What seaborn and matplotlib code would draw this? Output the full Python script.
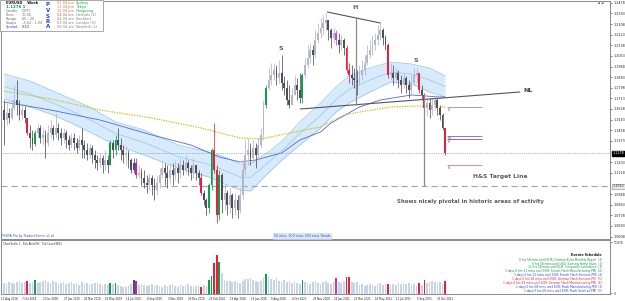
import matplotlib
matplotlib.use("Agg")
import matplotlib.pyplot as plt
import matplotlib.transforms as mtransforms
from matplotlib.patches import Rectangle
import seaborn as sns
import numpy as np

sns.set_style("white")
plt.rcParams['font.family'] = ['DejaVu Sans']

# EURUSD weekly candles, first bar = week of 13 Aug 2018
first_open = 1.162
closes = [1.154, 1.160, 1.156, 1.164, 1.170, 1.166, 1.158, 1.162, 1.156, 1.144,
          1.140, 1.135, 1.144, 1.148, 1.140, 1.142, 1.136, 1.144, 1.148, 1.142,
          1.148, 1.144, 1.140, 1.144, 1.138, 1.134, 1.140, 1.136, 1.132, 1.138,
          1.134, 1.130, 1.126, 1.132, 1.126, 1.122, 1.120, 1.124, 1.118, 1.122,
          1.118, 1.136, 1.130, 1.138, 1.134, 1.130, 1.126, 1.128, 1.122, 1.114,
          1.120, 1.110, 1.112, 1.108, 1.104, 1.102, 1.108, 1.102, 1.098, 1.104,
          1.110, 1.116, 1.112, 1.108, 1.114, 1.110, 1.116, 1.112, 1.118, 1.114,
          1.120, 1.116, 1.112, 1.118, 1.112, 1.108, 1.096, 1.090, 1.084, 1.102,
          1.130, 1.114, 1.078, 1.110, 1.090, 1.096, 1.086, 1.094, 1.084, 1.090,
          1.082, 1.094, 1.114, 1.126, 1.130, 1.124, 1.132, 1.126, 1.134, 1.142,
          1.166, 1.180, 1.186, 1.190, 1.194, 1.188, 1.192, 1.184, 1.180, 1.170,
          1.166, 1.174, 1.182, 1.178, 1.172, 1.190, 1.198, 1.204, 1.210, 1.206,
          1.218, 1.224, 1.228, 1.232, 1.234, 1.226, 1.220, 1.224, 1.218, 1.214,
          1.218, 1.212, 1.194, 1.190, 1.188, 1.186, 1.184, 1.190, 1.194, 1.200,
          1.206, 1.210, 1.214, 1.218, 1.222, 1.226, 1.220, 1.214, 1.190, 1.192,
          1.188, 1.192, 1.186, 1.182, 1.188, 1.182, 1.178, 1.184, 1.190, 1.192,
          1.178, 1.174, 1.164, 1.168, 1.162, 1.166, 1.170, 1.164, 1.158, 1.148,
          1.1276]
highs = [1.170, 1.168, 1.164, 1.170, 1.182, 1.186, 1.170, 1.166, 1.165, 1.156,
         1.150, 1.146, 1.146, 1.152, 1.150, 1.148, 1.146, 1.150, 1.154, 1.150,
         1.160, 1.152, 1.148, 1.148, 1.146, 1.142, 1.144, 1.144, 1.140, 1.142,
         1.148, 1.138, 1.136, 1.136, 1.134, 1.130, 1.126, 1.128, 1.126, 1.130,
         1.126, 1.138, 1.138, 1.142, 1.148, 1.140, 1.134, 1.133, 1.130, 1.124,
         1.124, 1.124, 1.118, 1.116, 1.114, 1.110, 1.112, 1.110, 1.108, 1.110,
         1.116, 1.122, 1.120, 1.118, 1.120, 1.120, 1.122, 1.120, 1.124, 1.122,
         1.126, 1.122, 1.118, 1.124, 1.118, 1.114, 1.112, 1.098, 1.092, 1.104,
         1.132, 1.152, 1.118, 1.114, 1.112, 1.102, 1.098, 1.100, 1.096, 1.096,
         1.094, 1.100, 1.122, 1.138, 1.140, 1.136, 1.138, 1.136, 1.140, 1.148,
         1.170, 1.182, 1.196, 1.200, 1.200, 1.198, 1.202, 1.206, 1.189, 1.186,
         1.182, 1.180, 1.190, 1.188, 1.192, 1.192, 1.204, 1.214, 1.216, 1.214,
         1.226, 1.232, 1.236, 1.238, 1.240, 1.234, 1.228, 1.228, 1.226, 1.224,
         1.222, 1.220, 1.214, 1.200, 1.198, 1.196, 1.194, 1.198, 1.202, 1.206,
         1.214, 1.218, 1.222, 1.224, 1.230, 1.232, 1.228, 1.222, 1.216, 1.200,
         1.198, 1.196, 1.194, 1.190, 1.192, 1.189, 1.186, 1.190, 1.196, 1.196,
         1.192, 1.182, 1.176, 1.172, 1.172, 1.172, 1.174, 1.172, 1.166, 1.160,
         1.148]
lows = [1.134, 1.150, 1.152, 1.154, 1.162, 1.158, 1.154, 1.154, 1.152, 1.142,
        1.132, 1.130, 1.133, 1.140, 1.136, 1.134, 1.124, 1.133, 1.140, 1.138,
        1.140, 1.138, 1.134, 1.136, 1.132, 1.130, 1.132, 1.130, 1.128, 1.130,
        1.124, 1.124, 1.122, 1.124, 1.120, 1.116, 1.114, 1.116, 1.112, 1.114,
        1.112, 1.118, 1.124, 1.126, 1.130, 1.122, 1.120, 1.118, 1.116, 1.112,
        1.112, 1.108, 1.108, 1.102, 1.100, 1.096, 1.098, 1.094, 1.090, 1.094,
        1.100, 1.108, 1.102, 1.100, 1.104, 1.102, 1.106, 1.104, 1.108, 1.110,
        1.112, 1.110, 1.106, 1.108, 1.106, 1.102, 1.094, 1.086, 1.078, 1.080,
        1.098, 1.112, 1.072, 1.074, 1.080, 1.082, 1.078, 1.080, 1.076, 1.078,
        1.076, 1.080, 1.090, 1.110, 1.118, 1.118, 1.120, 1.116, 1.122, 1.132,
        1.138, 1.164, 1.178, 1.182, 1.186, 1.182, 1.184, 1.178, 1.174, 1.166,
        1.164, 1.166, 1.174, 1.170, 1.168, 1.168, 1.188, 1.196, 1.200, 1.198,
        1.204, 1.216, 1.220, 1.222, 1.226, 1.218, 1.212, 1.216, 1.214, 1.208,
        1.210, 1.206, 1.192, 1.184, 1.182, 1.180, 1.174, 1.182, 1.186, 1.190,
        1.198, 1.204, 1.206, 1.210, 1.214, 1.218, 1.214, 1.210, 1.188, 1.186,
        1.182, 1.184, 1.180, 1.176, 1.180, 1.176, 1.172, 1.174, 1.182, 1.184,
        1.176, 1.170, 1.160, 1.158, 1.156, 1.158, 1.162, 1.158, 1.154, 1.146,
        1.126]
volumes = [11, 10, 12, 11, 10, 12, 13, 11, 12, 13,
           11, 12, 14, 11, 12, 13, 14, 12, 11, 13,
           12, 10, 11, 12, 10, 11, 12, 10, 11, 9,
           12, 10, 11, 9, 10, 11, 12, 10, 9, 10,
           9, 11, 10, 11, 9, 8, 7, 7, 8, 10,
           14, 13, 9, 10, 9, 8, 9, 10, 8, 9,
           8, 7, 9, 8, 9, 10, 8, 7, 9, 8,
           9, 10, 8, 7, 8, 9, 7, 9, 8, 14,
           18, 31, 39, 32, 21, 14, 13, 13, 12, 13,
           12, 11, 13, 15, 15, 16, 14, 13, 12, 13,
           16, 20, 17, 15, 14, 16, 13, 12, 14, 12,
           13, 11, 12, 11, 10, 14, 12, 11, 10, 12,
           13, 11, 10, 12, 13, 11, 10, 12, 16, 12,
           11, 13, 17, 17, 12, 11, 12, 9, 10, 8,
           9, 10, 9, 8, 10, 11, 9, 10, 10, 9,
           10, 9, 11, 10, 11, 10, 11, 9, 10, 8,
           11, 9, 14, 11, 12, 13, 12, 11, 12, 10,
           13]  # tick volume, thousands

# PVSRA special candles
red_bars = [9, 51, 76, 81, 82, 132, 133, 148, 160, 162, 170]
green_bars = [12, 41, 43, 79, 80, 83, 101, 115]
blue_bars = [50]
magenta_bars = [128]

# EMA ribbons (read at these bar numbers)
band_idx = [0, 10, 18, 26, 33, 43, 54, 67, 79, 85, 91, 95, 103, 108, 114, 122,
            128, 133, 141, 149, 157, 164, 170]
band_top = [1.1908, 1.1852, 1.1780, 1.1708, 1.1644, 1.1524, 1.1460, 1.1340, 1.1284,
            1.1244, 1.1188, 1.1188, 1.1300, 1.1388, 1.1524, 1.1676, 1.1804, 1.1892,
            1.1956, 1.2004, 1.1988, 1.1956, 1.1892]
band_mid = [1.1808, 1.1748, 1.1684, 1.1612, 1.1544, 1.1432, 1.1360, 1.1248, 1.1184,
            1.1136, 1.1084, 1.1080, 1.1220, 1.1312, 1.1432, 1.1576, 1.1704, 1.1784,
            1.1860, 1.1924, 1.1908, 1.1860, 1.1808]
band_bot = [1.1708, 1.1644, 1.1588, 1.1516, 1.1444, 1.1340, 1.1260, 1.1156, 1.1084,
            1.1028, 1.0980, 1.0972, 1.1140, 1.1236, 1.1340, 1.1476, 1.1604, 1.1676,
            1.1764, 1.1844, 1.1828, 1.1764, 1.1724]
ema100_idx = [0, 18, 37, 57, 72, 83, 91, 97, 107, 114, 122, 126, 137, 145, 157, 168, 170]
ema100 = [1.1684, 1.1620, 1.1540, 1.1420, 1.1340, 1.1244, 1.1204, 1.1220, 1.1276,
          1.1380, 1.1444, 1.1516, 1.1644, 1.1700, 1.1740, 1.1724, 1.1724]
ema200_idx = [0, 18, 37, 57, 76, 91, 99, 114, 122, 131, 137, 149, 160, 170]
ema200 = [1.1772, 1.1708, 1.1620, 1.1556, 1.1476, 1.1396, 1.1388, 1.1452, 1.1484,
          1.1580, 1.1604, 1.1644, 1.1652, 1.1644]

# head & shoulders drawing
neck_x, neck_y = [114.2, 198.8], [1.1628, 1.1764]
head_x, head_y = [124.6, 145.0], [1.2404, 1.2316]
head_drop_x, head_drop_y = 135.8, [1.2356, 1.1660]
target_drop_x, target_drop_y = 162.0, [1.1756, 1.1012]
target_price = 1.1012

# weekly pivot levels
pivot_levels = [1.1644, 1.1412, 1.1388, 1.1180]
pivot_names = ["R1", "M3", "PP", "S1"]
pivot_colors = ["#9a9af0", "#7a7ae8", "#d05a5a", "#e88a8a"]

price_ticks = [1.2478, 1.2393, 1.2308, 1.2223, 1.2138, 1.2053, 1.1968, 1.1883,
               1.1798, 1.1713, 1.1628, 1.1543, 1.1458, 1.1373, 1.1203, 1.1118,
               1.0948, 1.0863, 1.0778, 1.0693, 1.0608]
date_labels = ["13 Aug 2018", "7 Oct 2018", "2 Dec 2018", "27 Jan 2019", "24 Mar 2019",
               "19 May 2019", "14 Jul 2019", "8 Sep 2019", "3 Nov 2019", "29 Dec 2019",
               "23 Feb 2020", "19 Apr 2020", "14 Jun 2020", "9 Aug 2020", "4 Oct 2020",
               "29 Nov 2020", "24 Jan 2021", "21 Mar 2021", "16 May 2021", "11 Jul 2021",
               "5 Sep 2021", "31 Oct 2021"]
events = [("0 hrs 58 mins until EUR: German Buba Monthly Report  (3)", "#109040"),
          ("0 hrs 58 mins until USD: Existing Home Sales  (3)", "#109040"),
          ("12 hrs 58 mins until EUR: Consumer Confidence  (3)", "#109040"),
          ("1 days 0 hrs 11 mins until EUR: French Flash Manufacturing PMI  (4)", "#109040"),
          ("1 days 0 hrs 11 mins until EUR: French Flash Services PMI  (4)", "#2040e0"),
          ("1 days 0 hrs 28 mins until EUR: German Flash Services PMI  (5)", "#e0203c"),
          ("1 days 0 hrs 28 mins until EUR: German Flash Manufacturing PMI  (6)", "#e0203c"),
          ("1 days 0 hrs 58 mins until EUR: Flash Manufacturing PMI  (3)", "#2040e0"),
          ("1 days 0 hrs 58 mins until EUR: Flash Services PMI  (3)", "#2040e0")]

n = len(closes)
idx = np.arange(n)
opens = np.array([first_open] + closes[:-1])
closes_a = np.array(closes)

kinds = []
for i in range(n):
    if i in red_bars:
        kinds.append("red")
    elif i in green_bars:
        kinds.append("green")
    elif i in blue_bars:
        kinds.append("blue")
    elif i in magenta_bars:
        kinds.append("magenta")
    else:
        kinds.append("normal")

candle_pal = {"red": "#e8203c", "green": "#10a048", "blue": "#2848f0", "magenta": "#d040f0"}
vol_pal = {"normal": "#c9d3e6", "red": "#e8203c", "green": "#10a048",
           "blue": "#2848f0", "magenta": "#c030e0"}
body_colors = []
for i in range(n):
    if kinds[i] != "normal":
        body_colors.append(candle_pal[kinds[i]])
    elif closes_a[i] >= opens[i]:
        body_colors.append("#b4b4cc")
    else:
        body_colors.append("#4e4e58")

W, H = 625, 301
fig = plt.figure(figsize=(W / 100, H / 100), dpi=100)
ax = fig.add_axes([0.0015, 1 - 239 / H, 609 / W, 238 / H])
axv = fig.add_axes([0.0015, 1 - 294 / H, 609 / W, 54 / H])

xlim = (-1.15, 233.5)

# EMA ribbon
ax.fill_between(band_idx, band_bot, band_top, color="#d8ebfc", zorder=1, linewidth=0)
for vals in (band_top, band_mid, band_bot):
    sns.lineplot(x=band_idx, y=vals, ax=ax, color="#9fcaf2", linewidth=0.6, zorder=2)
sns.lineplot(x=ema100_idx, y=ema100, ax=ax, color="#5068e0", linewidth=0.6, zorder=2)
sns.lineplot(x=ema200_idx, y=ema200, ax=ax, color="#c8c010", linewidth=0.9,
             linestyle=(0, (1, 1)), zorder=2)

# candles
ax.vlines(idx, lows, highs, colors=body_colors, linewidth=0.55, zorder=3)
body_lo = np.minimum(opens, closes_a)
body_h = np.maximum(np.abs(closes_a - opens), 0.0008)
ax.bar(idx, body_h, bottom=body_lo, width=0.72, color=body_colors, linewidth=0, zorder=4)

# horizontal guides
ax.axhline(closes[-1], color="#9a9a9a", linewidth=0.6, linestyle=(0, (1, 1.2)), zorder=2)
ax.axhline(target_price, color="#a8a8a8", linewidth=0.9, linestyle=(0, (5, 3)), zorder=2)

# H&S lines
ax.plot(neck_x, neck_y, color="#555555", linewidth=0.8, zorder=5)
ax.plot(head_x, head_y, color="#555555", linewidth=0.8, zorder=5)
ax.vlines(head_drop_x, *head_drop_y, color="#8a8a8a", linewidth=0.9, zorder=5)
ax.vlines(target_drop_x, *target_drop_y, color="#8a8a8a", linewidth=0.9, zorder=5)

for lvl, name, col in zip(pivot_levels, pivot_names, pivot_colors):
    ax.hlines(lvl, n - 0.2, n + 13.2, color=col, linewidth=0.7, zorder=5)
    ax.text(n + 0.2, lvl - 0.0006, name, fontsize=2.0, color="#6060a0", va="top", ha="left")

txt_kw = dict(color="#5a5a5a", fontweight="bold", ha="center", va="center")
ax.text(135.4, 1.2444, "H", fontsize=4.6, **txt_kw)
ax.text(106.5, 1.2116, "S", fontsize=4.6, **txt_kw)
ax.text(158.8, 1.2020, "S", fontsize=4.6, **txt_kw)
ax.text(201.8, 1.1780, "NL", fontsize=4.6, color="#444444", fontweight="bold",
        ha="center", va="center")
ax.text(191.2, 1.1092, "H&S Target Line", fontsize=4.3, **txt_kw)
ax.text(179.8, 1.0892, "Shows nicely pivotal in historic areas of activity",
        fontsize=3.9, **txt_kw)

ax.set_xlim(*xlim)
ax.set_ylim(1.0588, 1.2492)
ax.set_xticks([])
ax.yaxis.tick_right()
ax.set_yticks(price_ticks)
ax.set_yticklabels([f"{t:.4f}" for t in price_ticks])
ax.tick_params(axis="y", labelsize=2.4, length=1.5, width=0.4, pad=1.2, colors="#222222")
ax.set_ylabel("")

blend = mtransforms.blended_transform_factory(ax.transAxes, ax.transData)
ax.text(1.004, closes[-1], f"{closes[-1]:.4f}", transform=blend, fontsize=2.4,
        color="white", va="center", ha="left",
        bbox=dict(boxstyle="square,pad=0.15", fc="#000000", ec="#000000"))
ax.text(1.004, target_price, f"{target_price:.4f}", transform=blend, fontsize=2.4,
        color="#333333", va="center", ha="left",
        bbox=dict(boxstyle="square,pad=0.15", fc="#e8e8e8", ec="#888888", lw=0.4))

# volume panel
sns.barplot(x=idx, y=volumes, hue=kinds, palette=vol_pal, native_scale=True,
            dodge=False, legend=False, width=0.65, saturation=1, errorbar=None,
            linewidth=0, ax=axv)
axv.set_xlim(*xlim)
axv.set_ylim(0, 54)
axv.yaxis.tick_right()
axv.set_yticks([51.9, 0.8])
axv.set_yticklabels(["51976", "0"])
axv.tick_params(axis="y", labelsize=2.2, length=1.5, width=0.4, pad=1.2, colors="#222222")
axv.set_xticks(idx[::8])
axv.set_xticklabels(date_labels)
axv.tick_params(axis="x", labelsize=1.9, length=1.5, width=0.4, pad=0.8, colors="#222222")
shift = mtransforms.ScaledTranslation(-2.5 / 100, 0, fig.dpi_scale_trans)
for lab in axv.get_xticklabels():
    lab.set_ha("left")
    lab.set_transform(lab.get_transform() + shift)
axv.set_xlabel("")
axv.set_ylabel("")

for a in (ax, axv):
    for sp in a.spines.values():
        sp.set_color("#8a8a8a")
        sp.set_linewidth(0.7)


def ftxt(x, y, s, **kw):
    kw.setdefault("va", "center")
    fig.text(x / W, 1 - y / H, s, **kw)


axv.text(0.003, 0.93, "Chart Scale: 1,  Pick Alert Off,  Tick Count 9803",
         transform=axv.transAxes, fontsize=1.8, color="#222222", va="center")
ftxt(1.5, 236, "PVSRA Pro by TradersSome, et al.", fontsize=2.3, color="#3050e0")
ftxt(274, 236, "50 ema, 100 ema, 200 ema Trends", fontsize=2.3, color="#3050e0",
     bbox=dict(boxstyle="square,pad=0.25", fc="#dce8f8", ec="#c4d4ee", lw=0.4))

ftxt(602, 255, "Events Schedule", fontsize=2.3, color="#111111", fontweight="bold", ha="right")
for k, (s, col) in enumerate(events):
    ftxt(602, 259.7 + 3.9 * k, s, fontsize=2.05, color=col, ha="right")

ftxt(604, 3, "\u25aa \u25aa", fontsize=2.5, color="#555555", ha="right")

# info panel
fig.add_artist(Rectangle((0, 1 - 31 / H), 103 / W, 31 / H, transform=fig.transFigure,
                         fc="white", ec="#9a9a9a", lw=0.6, zorder=10))
ly = [3.3, 7.3, 11.3, 15.3, 19.3, 23.3, 27.3]
info_kw = dict(fontsize=2.5, zorder=11)
ftxt(6, ly[0], "EURUSD    Week", color="#111111", fontweight="bold", **info_kw)
ftxt(6, ly[1], "1.1276 1", color="#10a040", fontweight="bold", fontsize=2.9, zorder=11)
rows = [("Candle", "(OFF)"), ("Pivot", "10:00"), ("Range", "66 : 26"), ("Swaps", "-3.62 : 1.04")]
for k, (a, b) in enumerate(rows):
    ftxt(6, ly[k + 2], a, color="#707070", **info_kw)
    ftxt(22, ly[k + 2], b, color="#707070", **info_kw)
ftxt(6, ly[6], "Spread", color="#2040e0", **info_kw)
ftxt(22, ly[6], "0.40", color="#2040e0", **info_kw)
for k, ch in enumerate("PVSRA"):
    ftxt(48, 5 + 5.5 * k, ch, color="#2040f0", fontweight="bold", fontsize=4.0,
         ha="center", zorder=11)
times = ["01:04 pm", "11:04 pm", "10:04 pm", "04:04 am", "04:04 am", "03:04 am", "09:04 am"]
cities = ["Sydney", "Tokyo", "Hongkong", "Helsinki (E)", "Frankfurt", "London (G)", "NewYork (L)"]
for k in range(7):
    ftxt(57, ly[k], times[k], color="#d07040" if k < 3 else "#808080", **info_kw)
    ftxt(76, ly[k], cities[k], color="#10a040" if k < 3 else "#808080", **info_kw)

fig.savefig("out.png", dpi=100)
